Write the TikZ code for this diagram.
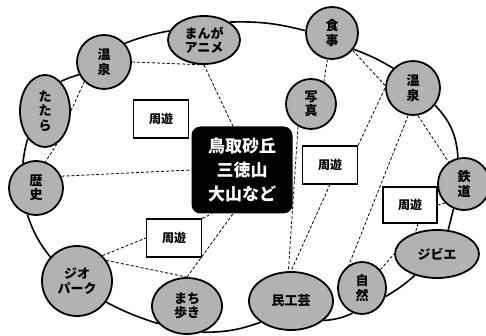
\documentclass[tikz,border=0pt]{standalone}
\usepackage{fontspec}
\setmainfont{Noto Sans CJK JP}
\usetikzlibrary{shapes.geometric,backgrounds}
\begin{document}
\begin{tikzpicture}[x=1pt,y=-1pt,
  spot/.style={circle,draw=black,line width=1.8pt,fill=gray!60,inner sep=0pt,align=center,
    font=\bfseries\fontsize{13}{14.5}\selectfont},
  ospot/.style={ellipse,draw=black,line width=1.8pt,fill=gray!60,inner sep=0pt,align=center,
    font=\bfseries\fontsize{13}{14.5}\selectfont},
  tourbox/.style={draw=black,line width=1.2pt,fill=white,minimum width=55pt,minimum height=38pt,
    inner sep=0pt,font=\bfseries\fontsize{12}{13}\selectfont},
  hubbox/.style={rounded corners=9pt,fill=black,text=white,minimum width=101pt,minimum height=87pt,
    inner sep=0pt,align=center,font=\bfseries\fontsize{17}{24}\selectfont},
  ring/.style={line width=1.6pt,black},
  link/.style={line width=0.8pt,densely dashed,black}]
\useasboundingbox (0,0) rectangle (486,336);
% hub
\node[hubbox] (hub) at (242,170) {鳥取砂丘\\三徳山\\大山など};
% tour boxes
\node[tourbox] (syuTL) at (161,119) {周遊};
\node[tourbox] (syuBL) at (174,238) {周遊};
\node[tourbox] (syuM) at (330,165) {周遊};
\node[tourbox,minimum width=54pt,minimum height=36pt] (syuR) at (410,205) {周遊};
% spots
\node[spot,minimum size=54pt] (onsenL) at (104,62) {温\\泉};
\node[ospot,minimum width=72pt,minimum height=48pt] (manga) at (204,40) {まんが\\アニメ};
\node[ospot,minimum width=50pt,minimum height=72pt] (tatara) at (45,111) {た\\た\\ら};
\node[spot,minimum size=54pt] (rekishi) at (36,188) {歴\\史};
\node[spot,minimum size=70pt] (geo) at (77,281) {ジオ\\パーク};
\node[ospot,minimum width=70pt,minimum height=56pt] (machi) at (187,306) {まち\\歩き};
\node[ospot,minimum width=84pt,minimum height=58pt] (mingei) at (291,301) {民工芸};
\node[ospot,minimum width=48pt,minimum height=52pt] (shizen) at (362,288) {自\\然};
\node[ospot,minimum width=84pt,minimum height=48pt] (jibie) at (437,254) {ジビエ};
\node[spot,minimum size=52pt] (tetsu) at (464,184) {鉄\\道};
\node[spot,minimum size=54pt] (onsenR) at (413,88) {温\\泉};
\node[spot,minimum size=52pt] (shoku) at (332,33) {食\\事};
\node[spot,minimum size=50pt] (photo) at (311,104) {写\\真};
\begin{scope}[on background layer]
% outer ring
\draw[ring] (onsenL.42) to[bend left=5] (manga.165);
\draw[ring] (manga.35) to[bend left=8] (shoku.175);
\draw[ring] (shoku.-37) to[bend left=5] (onsenR.135);
\draw[ring] (onsenR.-38) to[bend left=20] (tetsu.103);
\draw[ring] (tetsu.-113) to (jibie.65);
\draw[ring] (jibie.224) to[bend left=5] (shizen.-20);
\draw[ring] (shizen.-110) to[bend left=10] (mingei.-31);
\draw[ring] (mingei.215) to[bend left=10] (machi.-60);
\draw[ring] (machi.212) to[bend left=5] (geo.-36);
\draw[ring] (geo.138) to[bend left=10] (rekishi.252);
\draw[ring] (rekishi.118) to[bend left=5] (tatara.238);
\draw[ring] (tatara.62) to[bend left=5] (onsenL.207);
% inner links
\draw[link] (onsenL.east) -- (manga.south);
\draw[link] (manga.south) -- ([xshift=-9pt]hub.north);
\draw[link] (tatara.east) -- (onsenL.south west);
\draw[link] (tatara.-70) -- (rekishi.70);
\draw[link] (rekishi.25) -- (hub.west);
\draw[link] (geo.45) -- (syuBL.west);
\draw[link] (geo.35) -- (machi.north);
\draw[link] (syuBL.north east) -- ([xshift=-30pt]hub.south);
\draw[link] (machi.north) -- ([xshift=-9pt]hub.south);
\draw[link] (photo.240) -- (mingei.95);
\draw[link] (syuM.south) -- (mingei.north);
\draw[link] (syuM.north east) -- (onsenR.west);
\draw[link] (onsenR.260) -- (shizen.120);
\draw[link] (shoku.260) -- (photo.60);
\draw[link] (shoku.-40) -- (onsenR.175);
\draw[link] (onsenR.-80) -- (tetsu.125);
\draw[link] (syuR.east) -- (tetsu.225);
\draw[link] ([xshift=8pt]syuR.south) -- (jibie.135);
\draw[link] (shizen.45) -- (jibie.west);
\end{scope}
\end{tikzpicture}
\end{document}
